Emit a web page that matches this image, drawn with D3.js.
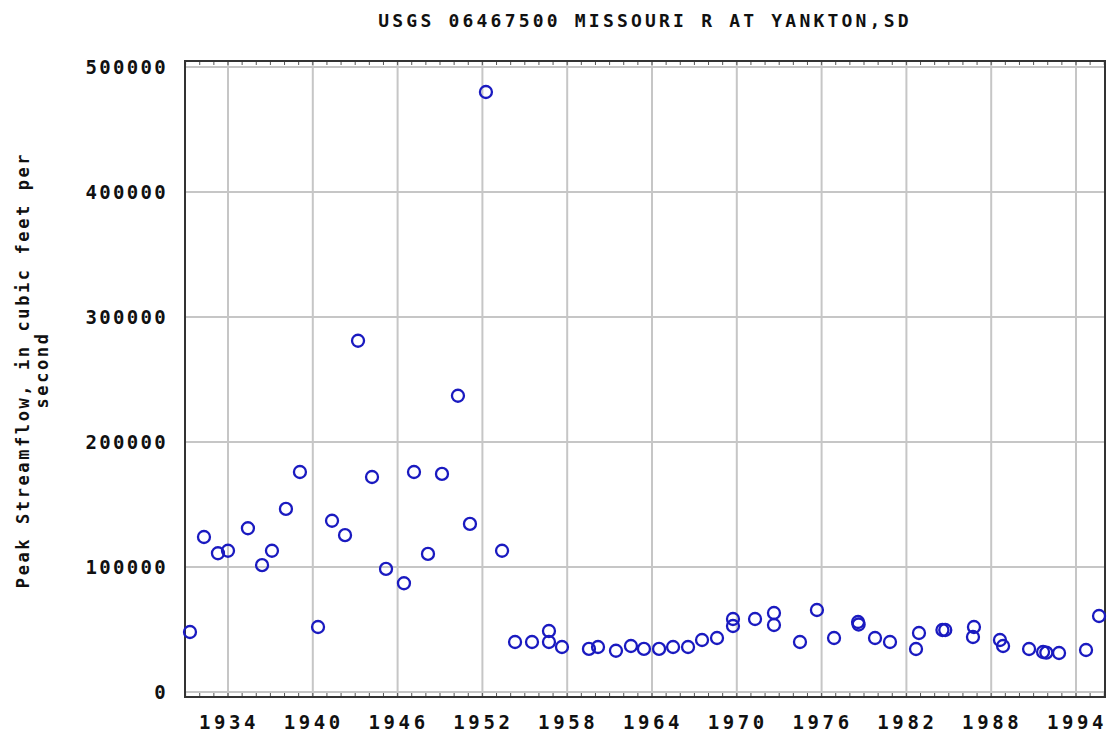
<!DOCTYPE html>
<meta charset="utf-8">
<title>USGS 06467500 peak streamflow</title>
<style>
  body { margin: 0; background: #fff; }
  text { font-family: "DejaVu Sans Mono", monospace; font-weight: bold; fill: #111; }
</style>
<div id="viz"></div>
<script src="https://cdnjs.cloudflare.com/ajax/libs/d3/7.8.5/d3.min.js"></script>
<script>

var width = 1108;
var height = 739;

// water year (decimal, date of peak) and peak streamflow (cfs)
var years = [1931.31, 1932.30, 1933.29, 1934.00, 1935.41, 1936.41, 1937.11, 1938.10, 1939.09,
  1940.37, 1941.36, 1942.28, 1943.20, 1944.19, 1945.18, 1946.45, 1947.16, 1948.15, 1949.14,
  1950.27, 1951.12, 1952.25, 1953.39, 1954.31, 1955.51, 1956.71, 1956.71, 1957.63, 1959.54,
  1960.18, 1961.45, 1962.51, 1963.43, 1964.50, 1965.49, 1966.55, 1967.54, 1968.60, 1969.73,
  1969.73, 1971.29, 1972.63, 1972.63, 1974.47, 1975.67, 1976.88, 1978.58, 1978.62, 1979.78,
  1980.84, 1982.89, 1982.68, 1984.55, 1984.75, 1986.78, 1986.71, 1988.62, 1988.84, 1990.68,
  1991.67, 1991.90, 1992.80, 1994.71, 1995.63];
var peaks = [48000, 124000, 111000, 113000, 131000, 101500, 113000, 146500, 176000,
  52000, 137000, 125500, 281000, 172000, 98500, 87000, 176000, 110500, 174500,
  237000, 134500, 480000, 113000, 40000, 40000, 48800, 40000, 36000, 34500,
  36000, 33000, 36800, 34500, 34500, 36000, 36000, 41600, 43200, 58400,
  52800, 58400, 63200, 53600, 40000, 65600, 43200, 56000, 54000, 43200,
  40000, 47200, 34400, 49600, 49600, 52000, 44000, 41600, 36800, 34400,
  32000, 31500, 31200, 33600, 60800];

var xTicks = [1934, 1940, 1946, 1952, 1958, 1964, 1970, 1976, 1982, 1988, 1994];
var yTicks = [0, 100000, 200000, 300000, 400000, 500000];

var title = "USGS 06467500 MISSOURI R AT YANKTON,SD";
var yLabel = ["Peak Streamflow, in cubic feet per", "second"];

var x = d3.scaleLinear().domain([1934, 1994]).range([228, 1076]);
var y = d3.scaleLinear().domain([0, 500000]).range([692, 67]);

var frame = { left: 185, right: 1105, top: 61, bottom: 697 };

var svg = d3.select("#viz")
  .append("svg")
  .attr("width", width)
  .attr("height", height);

// grid
svg.append("g").selectAll("line.vg")
  .data(xTicks).enter().append("line")
  .attr("x1", d => x(d)).attr("x2", d => x(d))
  .attr("y1", frame.top).attr("y2", frame.bottom)
  .attr("stroke", "#c6c6c6").attr("stroke-width", 2);

svg.append("g").selectAll("line.hg")
  .data(yTicks).enter().append("line")
  .attr("x1", frame.left).attr("x2", frame.right)
  .attr("y1", d => y(d)).attr("y2", d => y(d))
  .attr("stroke", "#c6c6c6").attr("stroke-width", 2);

// minor year ticks along top and bottom
var minor = d3.range(1931, 1997);
svg.append("g").selectAll("line")
  .data(minor).enter().append("line")
  .attr("x1", d => x(d)).attr("x2", d => x(d))
  .attr("y1", frame.top).attr("y2", frame.top + 4)
  .attr("stroke", "#555").attr("stroke-width", 1);
svg.append("g").selectAll("line")
  .data(minor).enter().append("line")
  .attr("x1", d => x(d)).attr("x2", d => x(d))
  .attr("y1", frame.bottom - 4).attr("y2", frame.bottom)
  .attr("stroke", "#555").attr("stroke-width", 1);

// frame
svg.append("rect")
  .attr("x", frame.left).attr("y", frame.top)
  .attr("width", frame.right - frame.left)
  .attr("height", frame.bottom - frame.top)
  .attr("fill", "none")
  .attr("stroke", "#333")
  .attr("stroke-width", 2);

// points
svg.append("g").selectAll("circle")
  .data(years).enter().append("circle")
  .attr("cx", d => x(d))
  .attr("cy", (d, i) => y(peaks[i]))
  .attr("r", 6)
  .attr("fill", "none")
  .attr("stroke", "#1a1ac0")
  .attr("stroke-width", 2.3);

// tick labels
svg.append("g").selectAll("text")
  .data(xTicks).enter().append("text")
  .attr("x", d => x(d) + 1)
  .attr("y", 729)
  .attr("text-anchor", "middle")
  .style("font-size", "19px")
  .style("letter-spacing", "3.6px")
  .text(d => d);

svg.append("g").selectAll("text")
  .data(yTicks).enter().append("text")
  .attr("x", 168)
  .attr("y", d => y(d) + 7)
  .attr("text-anchor", "end")
  .style("font-size", "19px")
  .style("letter-spacing", "2.3px")
  .text(d => d);

// title
svg.append("text")
  .attr("x", 645)
  .attr("y", 27)
  .attr("text-anchor", "middle")
  .style("font-size", "18px")
  .style("letter-spacing", "3.2px")
  .text(title);

// y axis label
var yl = svg.append("text")
  .attr("transform", "translate(29, 370) rotate(-90)")
  .attr("text-anchor", "middle")
  .style("font-size", "17px")
  .style("letter-spacing", "2.6px");
yl.selectAll("tspan")
  .data(yLabel).enter().append("tspan")
  .attr("x", 0)
  .attr("dy", (d, i) => i === 0 ? 0 : 19)
  .text(d => d);

</script>
